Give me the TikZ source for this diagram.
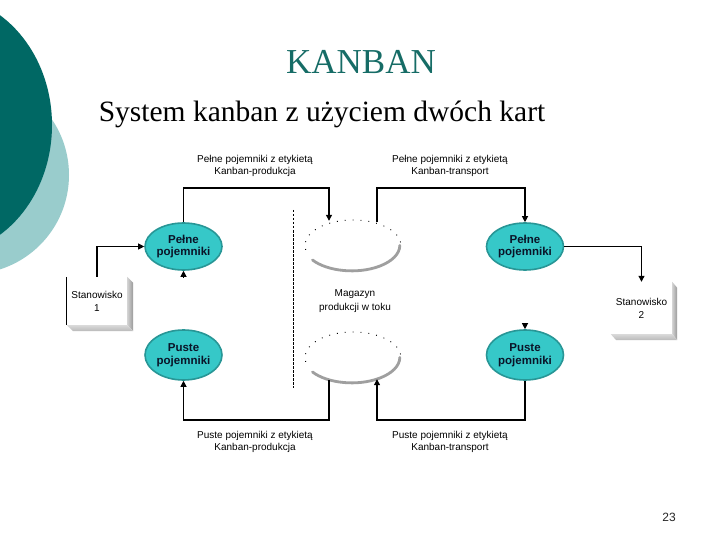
\documentclass[tikz,border=0pt]{standalone}
\usepackage{fontspec}
\setmainfont{Liberation Serif}
\newfontfamily\arialf{Liberation Sans}
\usetikzlibrary{arrows.meta,calc,shapes.geometric}
\definecolor{darkteal}{RGB}{0,104,100}
\definecolor{lightteal}{RGB}{153,204,204}
\definecolor{titleteal}{RGB}{22,108,102}
\definecolor{ellfill}{RGB}{54,200,200}
\definecolor{ellborder}{RGB}{40,150,150}
\definecolor{enttext}{RGB}{10,20,40}
\begin{document}
\begin{tikzpicture}[x=1pt,y=-1pt,
  cont/.style={ellipse, draw=ellborder, line width=1.6pt, fill=ellfill, minimum width=77pt, minimum height=47pt, inner sep=0pt, font=\arialf\bfseries\fontsize{11.5}{12.5}\selectfont, align=center, text=enttext},
  mag/.style={ellipse, minimum width=96pt, minimum height=51pt, inner sep=0pt},
  lbl/.style={font=\arialf\fontsize{10}{12.5}\selectfont, align=center},
  stbox/.style={rectangle, fill=white, inner sep=0pt, font=\arialf\fontsize{10}{13}\selectfont, align=center},
  conn/.style={line width=1.1pt, -{Triangle[length=6pt,width=6pt]}},
  magdots/.style={dash pattern=on 0.9pt off 7pt, line width=0.9pt},
  magshadow/.style={line width=2.8pt, color=gray!75, line cap=round},
]
\useasboundingbox (0,0) rectangle (720,540);
\fill[white] (0,0) rectangle (720,540);
\begin{scope}
\clip (0,0) rectangle (720,540);
\fill[lightteal] (-30,175) circle[radius=99];
\fill[darkteal] (-60,125) ellipse[x radius=112, y radius=130];
\end{scope}

% titles
\node[font=\fontsize{35}{40}\selectfont, text=titleteal, anchor=base, inner sep=0pt] (title) at (361,74) {KANBAN};
\node[font=\fontsize{29.5}{34}\selectfont, anchor=base, inner sep=0pt] (sub) at (322,122) {System kanban z użyciem dwóch kart};
\node[font=\arialf\fontsize{12}{14}\selectfont, text=black!85] (pg) at (669,517) {23};

% dashed divider
\coordinate (dtop) at (293,210);
\coordinate (dbot) at (293,388);
\draw[dash pattern=on 2.5pt off 1.5pt, line width=0.9pt] (dtop) -- (dbot);

% container ellipses
\node[cont] (pl) at (183.5,246.5) {Pełne\\pojemniki};
\node[cont] (pr) at (525,246.5) {Pełne\\pojemniki};
\node[cont,minimum height=50pt] (ul) at (183.5,355) {Puste\\pojemniki};
\node[cont,minimum height=50pt] (ur) at (525,355) {Puste\\pojemniki};

% magazyn
\node[mag] (mu) at (353,245.5) {};
\node[mag] (md) at (353,357.5) {};
\draw[magdots] ($(mu.center)+(-47.3,4.4)$) arc[start angle=170, end angle=365, x radius=48, y radius=25.5];
\draw[magdots] ($(md.center)+(-47.3,4.4)$) arc[start angle=170, end angle=365, x radius=48, y radius=25.5];
\draw[magshadow] ($(mu.center)+(-40.5,14.5)$) arc[start angle=145, end angle=0, x radius=48, y radius=25.5];
\draw[magshadow] ($(md.center)+(-40.5,14.5)$) arc[start angle=145, end angle=0, x radius=48, y radius=25.5];
\node[lbl, font=\arialf\fontsize{10}{14}\selectfont] (mt) at (355,301) {Magazyn\\produkcji w toku};

% stations
\node[stbox, minimum width=60pt, minimum height=48pt] (s1) at (97,301) {Stanowisko\\1};
\shade[left color=gray!35, right color=gray!80] (s1.north east) -- ++(6,6) -- ++(0,48) -- (s1.south east) -- cycle;
\shade[top color=gray!30, bottom color=gray!55] (s1.south west) -- (s1.south east) -- ++(6,6) -- ++(-60,0) -- cycle;
\draw[line width=1pt] (s1.north west) -- (s1.south west);

\node[stbox, minimum width=61pt, minimum height=52pt] (s2) at (641.5,308) {Stanowisko\\2};
\shade[left color=gray!35, right color=gray!80] (s2.north east) -- ++(5,6) -- ++(0,52) -- (s2.south east) -- cycle;
\shade[top color=gray!30, bottom color=gray!55] (s2.south west) -- (s2.south east) -- ++(5,6) -- ++(-61,0) -- cycle;

% connectors
\coordinate (t1) at (329,188);
\coordinate (t2) at (377,188);
\coordinate (b1) at (329,420);
\coordinate (b2) at (377,420);
\draw[conn] (s1.north) |- (pl.west);
\draw[conn] (pl.north) |- (t1) -- ($(t1 |- mu.north)+(0,1)$);
\draw[conn] ($(t2 |- mu.north)+(0,2)$) -- (t2) -| (pr.north);
\draw[conn] (pr.east) -| (s2.north);
\draw[conn] ($(b1 |- md.south)+(0,-3)$) -- (b1) -| (ul.south);
\draw[conn] (ur.south) |- (b2) -- ($(b2 |- md.south)+(0,-4)$);
\draw[conn] ($(pl.south)+(0,6)$) -- (pl.south);
\draw[conn] ($(ur.north)+(0,-6)$) -- (ur.north);

% labels
\node[lbl] (l1) at (255,166) {Pełne pojemniki z etykietą\\Kanban-produkcja};
\node[lbl] (l2) at (450,166) {Pełne pojemniki z etykietą\\Kanban-transport};
\node[lbl] (l3) at (255,442) {Puste pojemniki z etykietą\\Kanban-produkcja};
\node[lbl] (l4) at (450,442) {Puste pojemniki z etykietą\\Kanban-transport};
\end{tikzpicture}
\end{document}
